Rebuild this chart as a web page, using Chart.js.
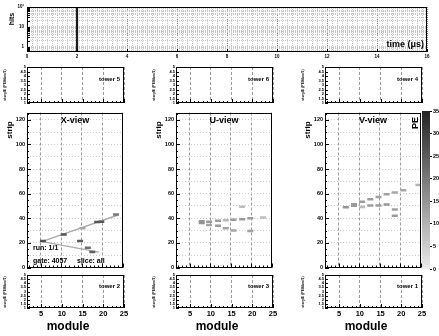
<!DOCTYPE html>
<html><head><meta charset="utf-8">
<script src="https://cdn.jsdelivr.net/npm/chart.js@4.4.1/dist/chart.umd.min.js"></script>
<style>
html,body{margin:0;padding:0;background:#fff;}
body{width:439px;height:336px;overflow:hidden;position:relative;font-family:"Liberation Sans",Arial,sans-serif;}
.cbox{position:absolute;}
.t{position:absolute;white-space:nowrap;font-weight:bold;color:#000;line-height:1;font-family:"Liberation Sans",Arial,sans-serif;}
</style></head><body>
<script>
// ---------- data ----------
const timeBins = [2.0];
const timeHits = [180];
const timeTickLabels = [0, 2, 4, 6, 8, 10, 12, 14, 16];
const hitsTickLabels = [1, 10, 100];
const moduleTickLabels = [5, 10, 15, 20, 25];
const stripTickLabels = [0, 20, 40, 60, 80, 100, 120];
const towerTickLabels = [1, 1.5, 2, 2.5, 3, 3.5, 4, 4.5, 5];
const peTickLabels = [0, 5, 10, 15, 20, 25, 30, 35];

const xviewModule = [5.5, 10.6, 14.6, 15.2, 16.5, 17.6, 18.8, 19.8, 23.4];
const xviewStrip  = [21.5, 26.8, 21.5, 32.0, 16.0, 12.5, 37.0, 37.2, 43.0];
const xviewPE     = [27, 26, 25, 12, 22, 24, 26, 26, 20];
const xTrackAModule = [5.4, 23.9];
const xTrackAStrip  = [21.3, 42.7];
const xTrackBModule = [5.4, 19.2];
const xTrackBStrip  = [21.0, 12.5];

const uviewModule = [7.9, 7.9, 9.7, 9.7, 11.9, 11.9, 13.8, 13.8, 15.7, 15.7, 17.8, 17.8, 19.8, 19.8, 22.9];
const uviewStrip  = [37.6, 36.2, 37.2, 34.5, 38.0, 33.9, 38.4, 32.0, 38.8, 30.0, 39.2, 49.4, 40.0, 29.6, 40.6];
const uviewPE     = [15, 15, 14, 13, 14, 14, 9, 13, 14, 12, 14, 8, 14, 13, 8];

const vviewModule = [6.7, 8.7, 8.7, 10.7, 10.7, 12.7, 12.7, 14.7, 14.7, 16.7, 16.7, 18.7, 18.7, 18.7, 20.8, 24.5];
const vviewStrip  = [49.0, 51.4, 50.2, 53.4, 49.2, 55.5, 50.5, 57.4, 50.5, 59.5, 51.2, 61.0, 47.2, 42.0, 62.7, 67.0];
const vviewPE     = [15, 14, 14, 14, 9, 14, 14, 13, 14, 13, 15, 12, 13, 14, 12, 10];

// ---------- helpers ----------
Chart.defaults.font.family = '"Liberation Sans", Arial, sans-serif';
Chart.defaults.font.weight = 'bold';
Chart.defaults.color = '#000';
Chart.defaults.plugins.legend.display = false;
Chart.defaults.plugins.tooltip.enabled = false;

const MOD_MIN = 1.6, MOD_MAX = 25, STRIP_MAX = 126, HITS_MIN = 0.56, PE_MAX = 35;
function range(a, b, s) { const r = []; for (let v = a; v <= b + 1e-9; v += s) r.push(Math.round(v * 1000) / 1000); return r; }
const timeGrid = range(0, 16, 0.2);
const logGrid = [0.6,0.7,0.8,0.9,1,2,3,4,5,6,7,8,9,10,20,30,40,50,60,70,80,90,100];

function peColor(pe) {
  const g = Math.round(235 - Math.min(pe, PE_MAX) / PE_MAX * 200);
  return `rgb(${g},${g},${g})`;
}
function fixSize(size) {
  return s => {
    if (s.isHorizontal()) s.height = size; else s.width = size;
    s.paddingLeft = s.paddingRight = s.paddingTop = s.paddingBottom = 0;
  };
}
const framePlugin = {
  id: 'frame',
  afterDraw(chart, args, opts) {
    const { ctx, chartArea: a } = chart;
    ctx.save();
    ctx.strokeStyle = '#000'; ctx.lineWidth = 1; ctx.setLineDash([]);
    (opts.ticks || []).forEach(t => {
      const sc = chart.scales[t.axis];
      t.values.forEach(v => {
        const p = sc.getPixelForValue(v);
        ctx.beginPath();
        if (t.axis === 'x') { const px = Math.round(p) + 0.5; ctx.moveTo(px, a.bottom); ctx.lineTo(px, a.bottom - t.len); }
        else { const py = Math.round(p) + 0.5; ctx.moveTo(a.left, py); ctx.lineTo(a.left + t.len, py); }
        ctx.stroke();
      });
    });
    if (opts.box !== false) ctx.strokeRect(Math.round(a.left) + 0.5, Math.round(a.top) + 0.5, Math.round(a.right - a.left) - 1, Math.round(a.bottom - a.top) - 1);
    ctx.restore();
  }
};
function makeChart(area, pad, config, layoutPad) {
  const W = area.R - area.L + pad.l + pad.r, H = area.B - area.T + pad.t + pad.b;
  const div = document.createElement('div'); div.className = 'cbox';
  div.style.cssText = `position:absolute;left:${area.L - pad.l}px;top:${area.T - pad.t}px;width:${W}px;height:${H}px;`;
  const cv = document.createElement('canvas'); cv.width = W; cv.height = H;
  cv.style.width = W + 'px'; cv.style.height = H + 'px';
  div.appendChild(cv); document.body.appendChild(div);
  config.options = Object.assign({
    responsive: false, maintainAspectRatio: false, animation: false, devicePixelRatio: 1,
    layout: { padding: layoutPad || { left: 0, top: pad.t, right: pad.r, bottom: 0 } }
  }, config.options);
  config.plugins = [framePlugin];
  return new Chart(cv, config);
}
function addText(txt, x, y, size, align, rot) {
  const d = document.createElement('div'); d.className = 't'; d.textContent = txt;
  d.style.left = x + 'px'; d.style.top = y + 'px'; d.style.fontSize = size + 'px';
  const tx = align === 'l' ? '0' : align === 'r' ? '-100%' : '-50%';
  d.style.transform = `translate(${tx},-50%)` + (rot ? ` rotate(${rot}deg)` : '');
  document.body.appendChild(d);
}
function moduleScale(showLabels, h) {
  return {
    type: 'linear', min: MOD_MIN, max: MOD_MAX,
    afterBuildTicks: s => { s.ticks = moduleTickLabels.map(v => ({ value: v })); },
    afterFit: fixSize(h),
    ticks: { display: showLabels, autoSkip: false, maxRotation: 0, padding: 1, font: { size: 7.5, weight: 'bold' } },
    grid: { drawTicks: false, color: '#9a9a9a', lineWidth: 1 },
    border: { display: false, dash: [3, 2] }
  };
}
const moduleInner = [{ axis: 'x', values: range(2, 24, 1), len: 2 }, { axis: 'x', values: moduleTickLabels, len: 4 }];

// ---------- top timeline ----------
makeChart({ L: 27, T: 7, R: 427, B: 52 }, { l: 27, t: 4, r: 8, b: 9 }, {
  type: 'bar',
  data: { datasets: [{ data: timeBins.map((t, i) => ({ x: t, y: [HITS_MIN, timeHits[i]] })), backgroundColor: '#1a1a1a', borderWidth: 0, barThickness: 1.6 }] },
  options: {
    scales: {
      x: {
        type: 'linear', min: 0, max: 16, offset: false,
        afterBuildTicks: s => { s.ticks = timeGrid.map(v => ({ value: v })); },
        afterFit: fixSize(9),
        ticks: { autoSkip: false, maxRotation: 0, padding: 2, font: { size: 4.5 }, callback: v => timeTickLabels.includes(v) ? String(v) : '' },
        grid: { offset: false, drawTicks: false, color: c => (c.tick && timeTickLabels.includes(c.tick.value)) ? '#8a8a8a' : '#c8c8c8' },
        border: { display: false, dash: [1, 1] }
      },
      y: {
        type: 'logarithmic', min: HITS_MIN, max: 100,
        afterBuildTicks: s => { s.ticks = logGrid.map(v => ({ value: v })); },
        afterFit: fixSize(27),
        ticks: { autoSkip: false, padding: 3, font: { size: 4.5 }, callback: v => v === 100 ? '10²' : hitsTickLabels.includes(v) ? String(v) : '' },
        grid: { drawTicks: false, color: '#c8c8c8' },
        border: { display: false, dash: [1, 1] }
      }
    },
    plugins: { frame: { ticks: [{ axis: 'x', values: timeTickLabels, len: 3 }, { axis: 'y', values: logGrid, len: 3 }] } }
  }
});

// ---------- columns ----------
const colL = [27, 176, 325], colW = 97;
const towerTop = ['tower 5', 'tower 6', 'tower 4'];
const towerBot = ['tower 2', 'tower 3', 'tower 1'];
const viewNames = ['X-view', 'U-view', 'V-view'];

function towerChart(L, T, B, padT, padB, showX) {
  makeChart({ L: L, T: T, R: L + colW, B: B }, { l: 27, t: padT, r: 4, b: padB }, {
    type: 'scatter', data: { datasets: [{ data: [] }] },
    options: {
      scales: {
        x: moduleScale(showX, padB),
        y: {
          type: 'linear', min: 1, max: 5,
          afterBuildTicks: s => { s.ticks = towerTickLabels.map(v => ({ value: v })); },
          afterFit: fixSize(27),
          ticks: { autoSkip: false, padding: 1, font: { size: 4 }, callback: v => String(v) },
          grid: { display: false, drawTicks: false }, border: { display: false }
        }
      },
      plugins: { frame: { ticks: moduleInner.concat([{ axis: 'y', values: towerTickLabels, len: 3 }]) } }
    }
  });
}

function hitsDataset(mods, strips, pes) {
  const col = pes.map(peColor);
  return { data: mods.map((m, i) => ({ x: m, y: strips[i] })), pointStyle: 'line', pointRadius: 3, pointHoverRadius: 3, pointBorderWidth: 2.5, pointBorderColor: col, pointBackgroundColor: col, showLine: false };
}
function trackDataset(mods, strips) {
  return { data: mods.map((m, i) => ({ x: m, y: strips[i] })), showLine: true, borderColor: '#ababab', borderWidth: 1.4, pointRadius: 0 };
}
function viewChart(L, datasets) {
  makeChart({ L: L, T: 111, R: L + colW, B: 269 }, { l: 27, t: 4, r: 4, b: 4 }, {
    type: 'scatter', data: { datasets: datasets },
    options: {
      scales: {
        x: moduleScale(false, 4),
        y: {
          type: 'linear', min: 0, max: STRIP_MAX,
          afterBuildTicks: s => { s.ticks = range(0, 120, 10).map(v => ({ value: v })); },
          afterFit: fixSize(27),
          ticks: { autoSkip: false, padding: 2, font: { size: 5.5 }, callback: v => stripTickLabels.includes(v) ? String(v) : '' },
          grid: { drawTicks: false, color: '#cccccc' },
          border: { display: false, dash: [1, 2] }
        }
      },
      plugins: { frame: { ticks: moduleInner.concat([{ axis: 'y', values: range(0, 125, 5), len: 2 }, { axis: 'y', values: stripTickLabels, len: 4 }]) } }
    }
  });
}

for (let c = 0; c < 3; c++) {
  towerChart(colL[c], 67, 103, 3, 3, false);
  towerChart(colL[c], 275, 308, 3, 13, true);
}
viewChart(colL[0], [hitsDataset(xviewModule, xviewStrip, xviewPE), trackDataset(xTrackAModule, xTrackAStrip), trackDataset(xTrackBModule, xTrackBStrip)]);
viewChart(colL[1], [hitsDataset(uviewModule, uviewStrip, uviewPE)]);
viewChart(colL[2], [hitsDataset(vviewModule, vviewStrip, vviewPE)]);

// ---------- colour bar ----------
makeChart({ L: 422, T: 111, R: 430, B: 269 }, { l: 0, t: 4, r: 9, b: 4 }, {
  type: 'bar',
  data: { labels: ['PE'], datasets: [{
    data: [[peTickLabels[0], peTickLabels[peTickLabels.length - 1]]], barPercentage: 1, categoryPercentage: 1, borderWidth: 0,
    backgroundColor: c => {
      const a = c.chart.chartArea; if (!a) return '#888';
      const g = c.chart.ctx.createLinearGradient(0, a.bottom, 0, a.top);
      peTickLabels.forEach(v => g.addColorStop(v / PE_MAX, peColor(v)));
      return g;
    }
  }] },
  options: {
    scales: {
      x: { display: false },
      y: {
        position: 'right', min: 0, max: PE_MAX,
        afterBuildTicks: s => { s.ticks = peTickLabels.map(v => ({ value: v })); },
        afterFit: fixSize(9),
        ticks: { autoSkip: false, padding: 1, font: { size: 5.5 } },
        grid: { drawOnChartArea: false, drawTicks: true, tickLength: 2, color: '#000' },
        border: { display: false }
      }
    },
    plugins: { frame: { box: false, ticks: [] } }
  }
}, { left: 0, top: 4, right: 0, bottom: 4 });

// ---------- texts ----------
addText('hits', 11, 19, 7, 'c', -90);
addText('time (\u03bcs)', 424, 44, 9, 'r');
for (let c = 0; c < 3; c++) {
  const L = colL[c];
  addText(towerTop[c], L + 93, 79, 6, 'r');
  addText(towerBot[c], L + 93, 286, 6, 'r');
  addText('story/E (PE/fiber/1)', L - 21, 85, 3.5, 'c', -90);
  addText('story/E (PE/fiber/1)', L - 21, 292, 3.5, 'c', -90);
  addText(viewNames[c], L + 48, 120, 9, 'c');
  addText('strip', L - 17, 130, 8, 'c', -90);
  addText('module', L + 41, 326, 12, 'c');
}
addText('PE', 415, 123, 9, 'c', -90);
addText('run: 1/1', 33, 247, 7, 'l');
addText('gate: 4057', 33, 260, 7, 'l');
addText('slice: all', 77, 260, 7, 'l');
</script>
</body></html>
